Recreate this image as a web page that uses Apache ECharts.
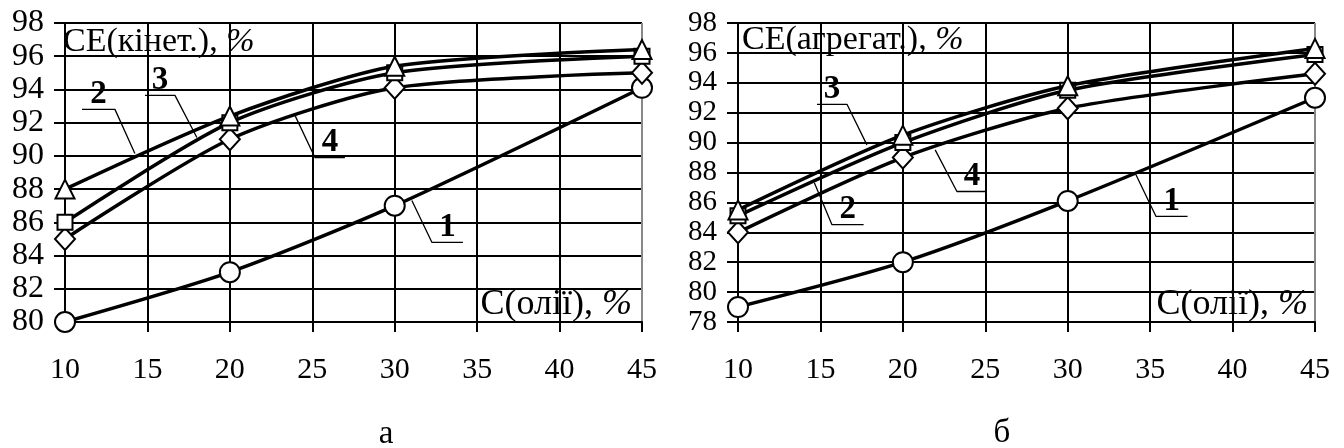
<!DOCTYPE html>
<html>
<head>
<meta charset="utf-8">
<script src="https://cdn.jsdelivr.net/npm/echarts@6/dist/echarts.min.js"></script>
<style>html,body{margin:0;padding:0;background:#fff}#c{width:1344px;height:448px}</style>
</head>
<body>
<div id="c"></div>
<script>
// ---- data ----
const xValues = [10, 20, 30, 45];
// panel а: СЕ(кінет.)
const a1 = [80.0, 83.0, 87.0, 94.1];   // circles, curve 1
const a2 = [88.0, 92.4, 95.4, 96.4];   // triangles, curve 2
const a3 = [86.0, 92.0, 95.0, 96.0];   // squares, curve 3
const a4 = [85.0, 91.0, 94.1, 95.0];   // diamonds, curve 4
// panel б: СЕ(агрегат.)
const b1 = [79.0, 82.0, 86.1, 93.0];
const b2 = [85.5, 90.5, 93.8, 96.3];
const b3 = [85.1, 90.0, 93.5, 95.9];
const b4 = [84.0, 89.0, 92.3, 94.6];
// tick settings
const xMin = 10, xMax = 45, xStep = 5;
const aMin = 80, aMax = 98, bMin = 78, bMax = 98, yStep = 2;
// annotation leader lines (data coordinates) and their labels
const leadA = {
  '1': [[31.04, 87.32], [32.26, 84.79], [34.14, 84.79]],
  '2': [[11.03, 92.8], [13.03, 92.8], [14.24, 90.15]],
  '3': [[14.85, 93.64], [16.67, 93.64], [18.0, 91.11]],
  '4': [[23.95, 92.44], [25.16, 89.9], [26.98, 89.9]]
};
const leadB = {
  '1': [[34.14, 87.85], [35.35, 85.07], [37.27, 85.07]],
  '2': [[14.63, 87.31], [15.7, 84.51], [17.62, 84.51]],
  '3': [[14.79, 92.56], [16.61, 92.56], [17.82, 89.85]],
  '4': [[21.96, 89.51], [23.28, 86.73], [25.1, 86.73]]
};
const yNameA = 'СЕ(кінет.), ';
const yNameB = 'СЕ(агрегат.), ';
const xName = 'С(олії), ';
const panelA = 'а', panelB = 'б';

// ---- chart ----
const FONT = 'Liberation Serif';
const chart = echarts.init(document.getElementById('c'), null, {renderer: 'canvas'});

function xAx(gi) {
  return {
    type: 'value', gridIndex: gi, min: xMin, max: xMax, interval: xStep,
    axisLine: {show: true, lineStyle: {color: '#000', width: 2}},
    axisTick: {show: true, length: 10, lineStyle: {color: '#000', width: 2}},
    axisLabel: {color: '#000', fontFamily: FONT, fontSize: 30, margin: 33},
    splitLine: {show: true, lineStyle: {color: ['#000','#000','#000','#000','#000','#000','#000','#888'], width: 2}}
  };
}
function yAx(gi, mn, mx, fs) {
  return {
    type: 'value', gridIndex: gi, min: mn, max: mx, interval: yStep,
    axisLine: {show: true, lineStyle: {color: '#000', width: 2}},
    axisTick: {show: true, length: 11, lineStyle: {color: '#000', width: 2}},
    axisLabel: {color: '#000', fontFamily: FONT, fontSize: fs, margin: 21},
    splitLine: {show: true, lineStyle: {color: '#000', width: 2}}
  };
}
const sym = {
  circle: {symbol: 'circle', symbolSize: 20},
  triangle: {symbol: 'triangle', symbolSize: 19},
  rect: {symbol: 'rect', symbolSize: 15},
  diamond: {symbol: 'diamond', symbolSize: [20, 22]}
};
function curve(gi, vals, s, z) {
  return Object.assign({
    type: 'line', xAxisIndex: gi, yAxisIndex: gi, smooth: 0.25, z: z,
    data: xValues.map((x, i) => [x, vals[i]]),
    showAllSymbol: true,
    lineStyle: {color: '#000', width: 3.5},
    itemStyle: {color: '#fff', borderColor: '#000', borderWidth: 2},
    emphasis: {disabled: true}, animation: false
  }, sym[s]);
}
function leaders(gi, lead) {
  const out = [];
  Object.keys(lead).forEach(k => {
    const pts = lead[k];
    out.push({
      type: 'line', xAxisIndex: gi, yAxisIndex: gi, data: pts, symbol: 'none', z: 20,
      lineStyle: {color: '#000', width: 1.3}, animation: false, silent: true
    });
    const hx = pts.filter((p, i) => i > 0 && p[1] === pts[i - 1][1]);
    const y = hx.length ? hx[0][1] : pts[1][1];
    const seg = pts.filter(p => p[1] === y);
    const mx = (seg[0][0] + seg[seg.length - 1][0]) / 2;
    out.push({
      type: 'scatter', xAxisIndex: gi, yAxisIndex: gi, symbolSize: 0, z: 21, silent: true, animation: false,
      itemStyle: {opacity: 1},
      data: [{value: [mx, y], label: {formatter: k}}],
      label: {show: true, position: 'top', distance: 1, color: '#000', fontFamily: FONT,
              fontWeight: 'bold', fontSize: 33, lineHeight: 28}
    });
  });
  return out;
}
function nameText(x, y, txt, size, align) {
  return {
    type: 'text', x: x, y: y, z: 50, silent: true,
    style: {
      text: '{n|' + txt + '}{p|%}', align: align, verticalAlign: 'middle',
      rich: {
        n: {fontFamily: FONT, fontSize: size, fill: '#000'},
        p: {fontFamily: FONT, fontSize: size, fontStyle: 'italic', fill: '#000'}
      }
    }
  };
}

const option = {
  backgroundColor: '#fff',
  animation: false,
  grid: [
    {left: 65, right: 702, top: 23, bottom: 126},
    {left: 738, right: 29, top: 23, bottom: 126}
  ],
  xAxis: [xAx(0), xAx(1)],
  yAxis: [yAx(0, aMin, aMax, 32), yAx(1, bMin, bMax, 29)],
  series: [
    curve(0, a1, 'circle', 5), curve(0, a4, 'diamond', 6), curve(0, a3, 'rect', 7), curve(0, a2, 'triangle', 8),
    curve(1, b1, 'circle', 5), curve(1, b4, 'diamond', 6), curve(1, b3, 'rect', 7), curve(1, b2, 'triangle', 8)
  ].concat(leaders(0, leadA), leaders(1, leadB)),
  graphic: [
    nameText(63, 42, yNameA, 34, 'left'),
    nameText(742, 40, yNameB, 34, 'left'),
    nameText(632, 305, xName, 36, 'right'),
    nameText(1308, 305, xName, 36, 'right'),
    {type: 'text', x: 386, y: 434, style: {text: panelA, fontFamily: FONT, fontSize: 33, fill: '#000', align: 'center', verticalAlign: 'middle'}},
    {type: 'text', x: 1002, y: 433, style: {text: panelB, fontFamily: FONT, fontSize: 33, fill: '#000', align: 'center', verticalAlign: 'middle'}}
  ]
};
chart.setOption(option);
</script>
</body>
</html>
